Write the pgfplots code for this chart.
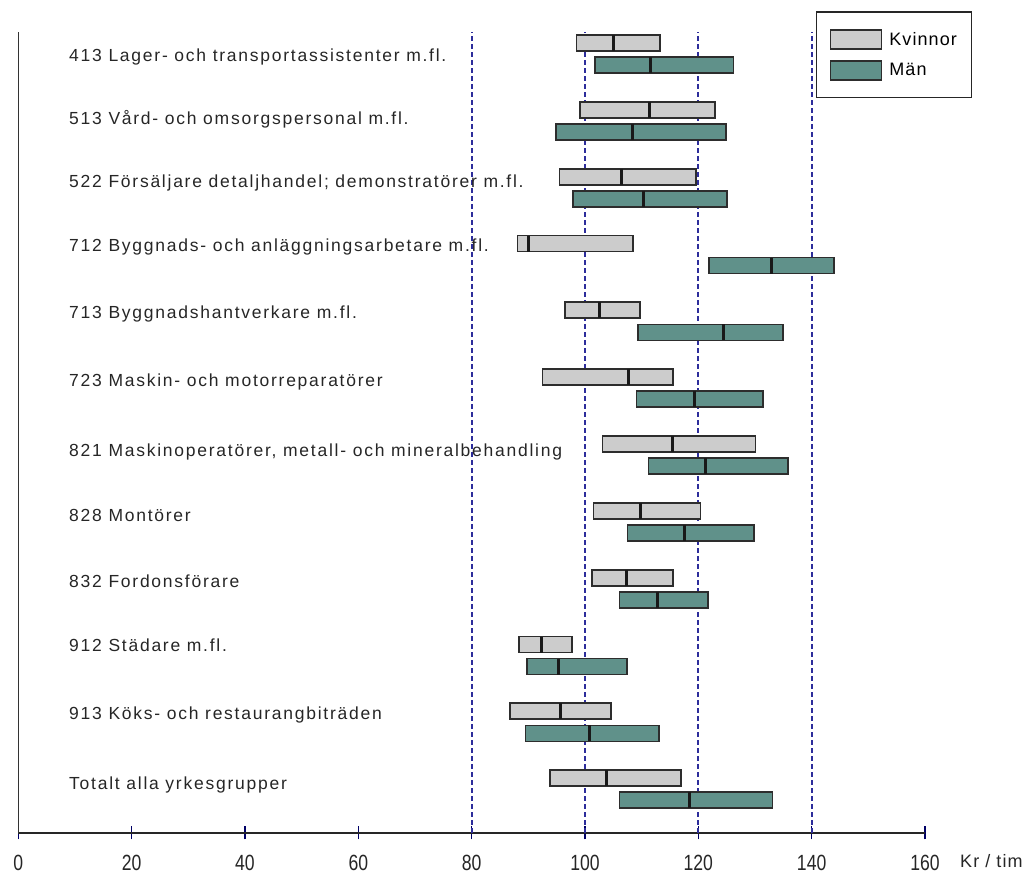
\documentclass[border=0pt]{standalone}
\usepackage{fontspec}
\setmainfont{Liberation Sans}
\newfontfamily\labelfont{Liberation Sans}[LetterSpace=10]
\newfontfamily\legfont{Liberation Sans}[LetterSpace=6]
\newfontfamily\tickfont{Liberation Sans}[FakeStretch=0.8]
\usepackage{pgfplots}
\usepackage{pgfplotstable}
\pgfplotsset{compat=1.18}

\definecolor{kgrey}{RGB}{204,204,204}
\definecolor{mteal}{RGB}{96,145,138}
\definecolor{edge}{RGB}{45,45,45}
\definecolor{gridblue}{RGB}{45,45,155}

% Kvinnor: y, lower end, median, upper end
\pgfplotstableread{
y low med high
0 98.5 105.0 113.3
-1 99.1 111.3 122.9
-2 95.5 106.5 119.6
-3 88.1 90.1 108.5
-4 96.5 102.6 109.7
-5 92.5 107.6 115.6
-6 103.1 115.5 130.1
-7 101.5 109.8 120.4
-8 101.3 107.4 115.6
-9 88.4 92.4 97.7
-10 86.8 95.7 104.6
-11 93.8 103.8 116.9
}\Ktab

% Män
\pgfplotstableread{
y low med high
-0.33 101.8 111.6 126.2
-1.33 94.9 108.3 124.9
-2.33 97.9 110.4 125.0
-3.33 121.9 132.9 143.9
-4.33 109.4 124.5 134.9
-5.33 109.1 119.4 131.4
-6.33 111.2 121.2 135.8
-7.33 107.5 117.6 129.8
-8.33 106.1 112.8 121.7
-9.33 89.8 95.4 107.4
-10.33 89.5 100.8 113.0
-11.33 106.1 118.5 133.1
}\Mtab

\pgfplotsset{
  base/.style={
    width=906.7pt, height=801pt, scale only axis,
    xmin=0, xmax=160, ymin=-11.82, ymax=0.165,
    enlargelimits=false, at={(0,0)}, anchor=south west,
  },
  barbase/.style={base, hide axis, xbar stacked, bar width=16pt},
  seg/.style={draw=edge, line width=1.8pt, fill=#1},
}
\tikzset{
  lab/.style={anchor=base west, inner sep=0pt, yshift=-6.3pt,
    font=\labelfont\fontsize{17.5}{19}\selectfont, text=black!85},
}

\begin{document}
\begin{tikzpicture}
\begin{axis}[
  base, name=A, clip=false,
  axis x line*=bottom, axis y line*=left,
  x axis line style={line width=1.7pt, draw=black!85},
  y axis line style={line width=1.3pt, draw=black!80},
  xtick={0,20,...,160}, xtick pos=bottom, ytick=\empty,
  xtick align=center, major tick length=13pt,
  xtick style={draw=black!60!blue, line width=1.1pt},
  /pgf/number format/assume math mode=true,
  xticklabel style={font=\tickfont\fontsize{22}{22}\selectfont, anchor=base, inner sep=0pt, yshift=-31pt, text=black!85},
  extra x ticks={80,100,120,140}, extra x tick labels={},
  extra x tick style={grid=major, major tick length=0pt,
    major grid style={draw=gridblue, line width=1.7pt, dash pattern=on 4.5pt off 3.5pt}},
  legend image code/.code={\draw[#1] (0pt,-9.5pt) rectangle (51pt,9.5pt);},
  legend style={at={(0.8798,1.0256)}, anchor=north west, draw=black!85, line width=1.1pt,
    font=\legfont\fontsize{18}{20}\selectfont, inner xsep=13pt, inner ysep=17pt, row sep=10pt,
    column sep=5pt, cells={anchor=west}},
]
\addlegendimage{seg=kgrey}
\addlegendentry{Kvinnor}
\addlegendimage{seg=mteal}
\addlegendentry{Män}
\node[lab] at (axis cs:8.95,-0.18) {413 Lager- och transportassistenter m.fl.};
\node[lab] at (axis cs:8.95,-1.12) {513 Vård- och omsorgspersonal m.fl.};
\node[lab] at (axis cs:8.95,-2.07) {522 Försäljare detaljhandel; demonstratörer m.fl.};
\node[lab] at (axis cs:8.95,-3.02) {712 Byggnads- och anläggningsarbetare m.fl.};
\node[lab] at (axis cs:8.95,-4.03) {713 Byggnadshantverkare m.fl.};
\node[lab] at (axis cs:8.95,-5.04) {723 Maskin- och motorreparatörer};
\node[lab] at (axis cs:8.95,-6.09) {821 Maskinoperatörer, metall- och mineralbehandling};
\node[lab] at (axis cs:8.95,-7.06) {828 Montörer};
\node[lab] at (axis cs:8.95,-8.05) {832 Fordonsförare};
\node[lab] at (axis cs:8.95,-9.01) {912 Städare m.fl.};
\node[lab] at (axis cs:8.95,-10.03) {913 Köks- och restaurangbiträden};
\node[lab] at (axis cs:8.95,-11.07) {Totalt alla yrkesgrupper};
\node[anchor=base west, inner sep=0pt, font=\legfont\fontsize{18}{20}\selectfont, text=black!85,
  xshift=35pt, yshift=-35pt] at (rel axis cs:1,0) {Kr / tim};
\end{axis}

% Kvinnor bars
\begin{axis}[barbase]
\addplot[draw=none, fill=none] table[x=low, y=y] {\Ktab};
\addplot[seg=kgrey] table[x expr=\thisrow{med}-\thisrow{low}, y=y] {\Ktab};
\addplot[seg=kgrey] table[x expr=\thisrow{high}-\thisrow{med}, y=y] {\Ktab};
\end{axis}

% Män bars
\begin{axis}[barbase]
\addplot[draw=none, fill=none] table[x=low, y=y] {\Mtab};
\addplot[seg=mteal] table[x expr=\thisrow{med}-\thisrow{low}, y=y] {\Mtab};
\addplot[seg=mteal] table[x expr=\thisrow{high}-\thisrow{med}, y=y] {\Mtab};
\end{axis}

% medians
\begin{axis}[base, hide axis]
\addplot[only marks, mark=|, mark size=8pt, mark options={line width=3pt, draw=black!90}] table[x=med, y=y] {\Ktab};
\addplot[only marks, mark=|, mark size=8pt, mark options={line width=3pt, draw=black!90}] table[x=med, y=y] {\Mtab};
\end{axis}

\pgfresetboundingbox
\path[use as bounding box] ([xshift=-18.3pt,yshift=-42pt]A.south west) rectangle ([xshift=109pt,yshift=32pt]A.north east);
\end{tikzpicture}
\end{document}
